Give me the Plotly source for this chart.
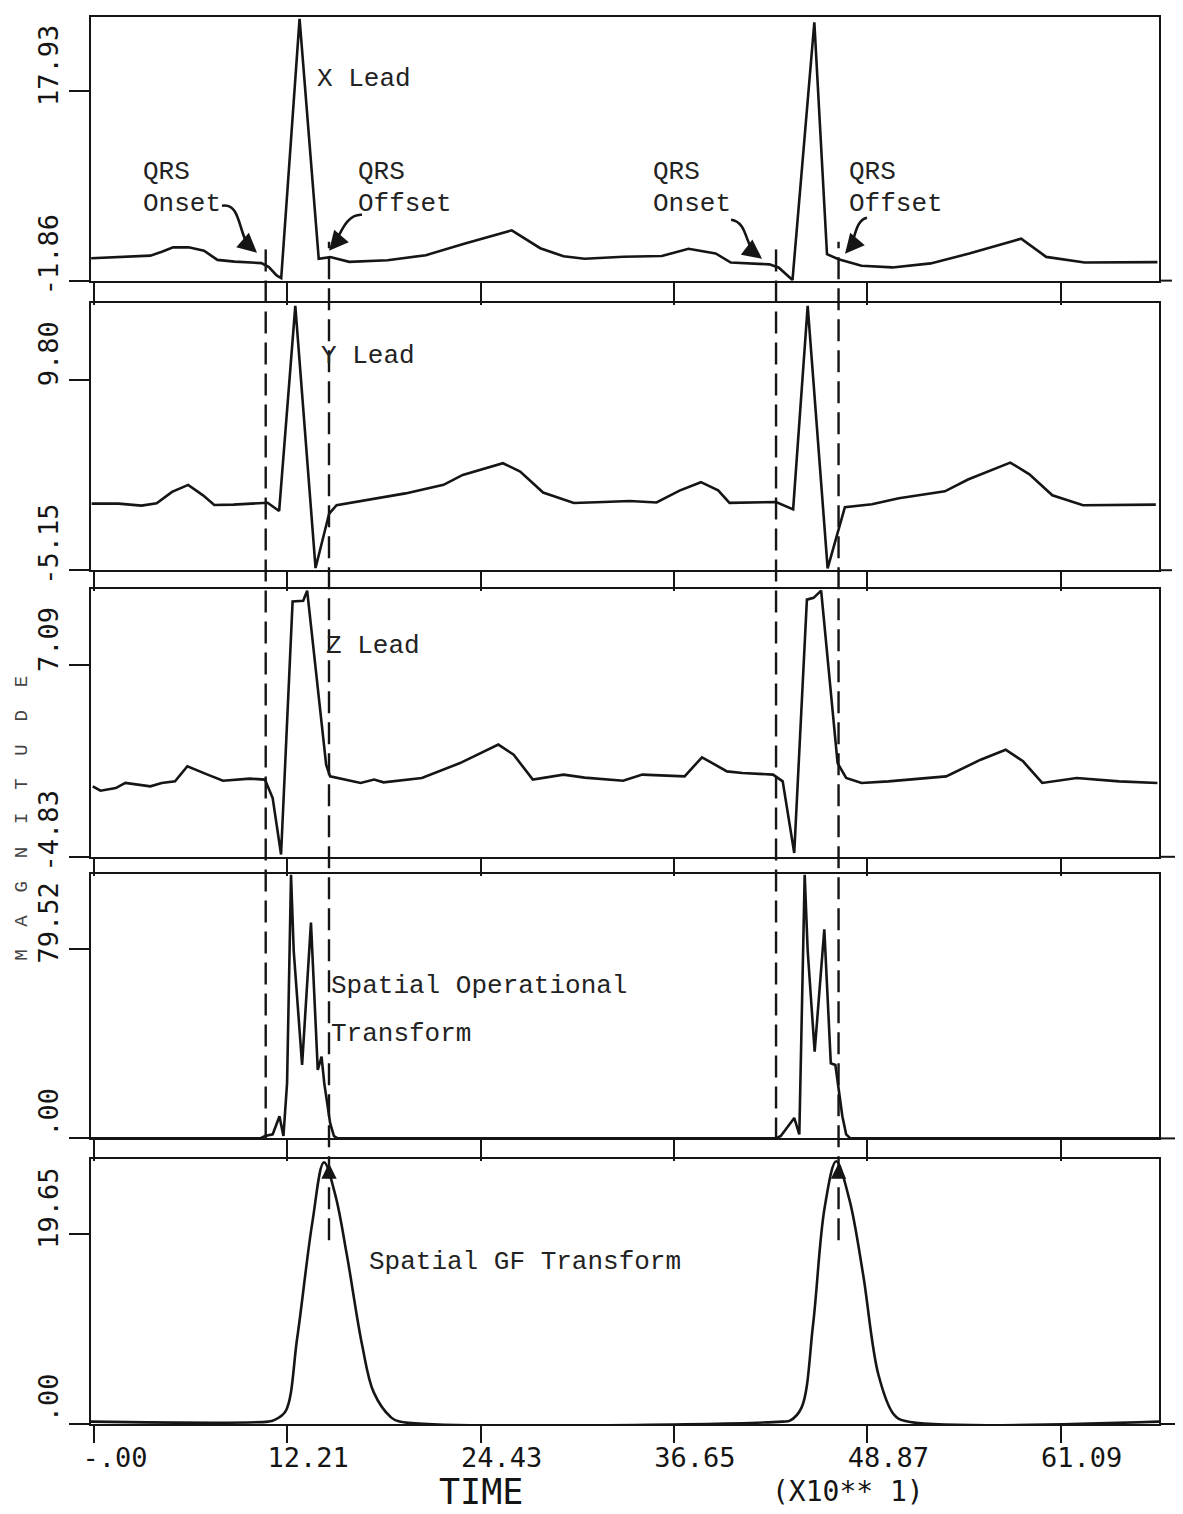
import plotly.graph_objects as go

# ---------------- data ----------------
# time axis (x10 samples)
x_tick_vals = [0, 12.21, 24.43, 36.65, 48.87, 61.09]
x_tick_text = ["-.00", "12.21", "24.43", "36.65", "48.87", "61.09"]
X_RANGE = [-0.19, 67.3]

# X lead
x_lead_t = [-0.18, 3.56, 4.29, 5.0, 5.98, 6.95, 7.8, 8.88, 10.58, 11.05, 11.54, 11.83, 12.99, 14.2, 14.93,
            16.13, 18.55, 20.97, 23.39, 24.84, 26.4, 28.2, 29.67, 31.0, 33.45, 35.88, 37.57, 39.28, 40.24,
            42.68, 43.28, 44.14, 45.52, 46.32, 47.05, 48.5, 50.45, 52.87, 55.31, 58.59, 60.17, 62.6, 67.2]
x_lead_v = [0.48, 0.75, 1.16, 1.62, 1.62, 1.27, 0.31, 0.13, -0.03, -0.45, -1.32, -1.6, 25.5, 0.43, 0.6,
            0.1, 0.27, 0.8, 2.0, 2.7, 3.4, 1.53, 0.68, 0.42, 0.63, 0.71, 1.47, 0.98, 0.03,
            -0.16, -0.51, -1.8, 25.15, 0.9, 0.38, -0.3, -0.48, -0.06, 0.97, 2.52, 0.62, 0.03, 0.07]

# Y lead
y_lead_t = [-0.15, 1.55, 3.0, 3.96, 4.93, 5.95, 6.87, 7.6, 8.8, 10.97, 11.7, 12.72, 14.0, 14.86, 15.33,
            17.26, 19.68, 22.09, 23.3, 25.84, 26.93, 28.38, 30.32, 32.2, 33.84, 35.55, 37.0, 38.35, 39.44,
            40.16, 43.1, 44.18, 45.1, 46.36, 47.09, 47.45, 49.16, 50.86, 53.77, 55.23, 57.9, 59.11, 60.56,
            62.5, 67.1]
y_lead_v = [0.08, 0.08, -0.08, 0.1, 1.0, 1.55, 0.75, -0.03, 0.0, 0.15, -0.5, 15.6, -4.98, -0.7, -0.05,
            0.35, 0.88, 1.55, 2.33, 3.25, 2.6, 0.95, 0.13, 0.2, 0.28, 0.17, 1.1, 1.76, 1.12,
            0.14, 0.2, -0.37, 15.6, -5.0, -1.77, -0.2, 0.03, 0.5, 1.04, 1.97, 3.3, 2.38, 0.73,
            -0.05, 0.0]

# Z lead
z_lead_t = [-0.08, 0.41, 1.38, 1.98, 3.56, 4.28, 5.12, 5.9, 7.18, 8.15, 9.84, 10.8, 11.29, 11.82, 12.55,
            13.22, 13.47, 14.67, 14.92, 16.85, 17.7, 18.3, 20.72, 23.13, 25.55, 26.52, 27.73, 29.67, 31.0,
            33.44, 34.65, 37.32, 38.42, 40.0, 40.97, 42.91, 43.52, 44.25, 45.05, 45.47, 45.95, 46.99,
            47.53, 48.5, 50.2, 53.85, 56.03, 57.61, 58.71, 59.92, 62.1, 64.78, 67.2]
z_lead_v = [-0.44, -0.71, -0.55, -0.23, -0.44, -0.23, -0.13, 0.81, 0.29, -0.09, 0.04, -0.02, -1.17, -4.69,
            11.08, 11.12, 11.75, 0.91, 0.18, -0.23, -0.02, -0.19, 0.08, 1.01, 2.16, 1.53, -0.02, 0.29, 0.1,
            -0.09, 0.29, 0.18, 1.37, 0.49, 0.39, 0.29, -0.13, -4.59, 11.19, 11.3, 11.75, 1.01,
            0.08, -0.23, -0.13, 0.18, 1.22, 1.84, 1.12, -0.23, 0.08, -0.13, -0.23]

# Spatial Operational Transform
sot_t = [-0.19, 10.5, 10.81, 11.29, 11.72, 11.97, 12.2, 12.45, 12.62, 13.15, 13.71, 14.14, 14.38, 14.55,
         14.92, 15.16, 15.4, 43.1, 43.4, 44.25, 44.57, 44.91, 45.1, 45.54, 46.15, 46.56, 46.85, 47.29,
         47.53, 47.8, 67.3]
sot_v = [0, 0, 1.0, 1.7, 9.3, 1.0, 23.2, 110.6, 78.7, 30.8, 90.5, 28.7, 34.3, 23.2,
         6.5, 1.0, 0, 0, 1.0, 8.6, 1.7, 110.6, 78.7, 36.4, 87.7, 31.5, 30.8, 9.3,
         1.7, 0, 0]

# Spatial GF Transform
gf_t = [-0.19, 11.0, 11.38, 12.1, 12.84, 13.8, 14.53, 15.25, 15.98, 16.94, 17.67, 18.76, 19.3,
        43.5, 43.98, 44.71, 45.44, 46.17, 46.9, 47.74, 48.6, 49.57, 50.54, 51.27, 67.3]
gf_v = [0.25, 0.25, 0.4, 1.3, 8.9, 20.9, 27.1, 23.7, 17.5, 8.2, 3.3, 0.7, 0.25,
        0.25, 0.35, 1.7, 10.3, 22.4, 27.2, 23.2, 15.5, 5.1, 1.0, 0.3, 0.25]

# QRS onset / offset markers
qrs_onset = [10.85, 43.1]
qrs_offset = [14.85, 47.05]

# y ranges and tick labels per panel
y_ranges = [[-1.86, 25.7], [-5.15, 15.86], [-4.83, 11.84], [0, 111.0], [0, 27.4]]
y_tick_vals = [[-1.86, 17.93], [-5.15, 9.80], [-4.83, 7.09], [0, 79.52], [0, 19.65]]
y_tick_text = [["-1.86", "17.93"], ["-5.15", "9.80"], ["-4.83", "7.09"], [".00", "79.52"], [".00", "19.65"]]

# ---------------- layout geometry ----------------
OFF = 8                      # page offset of the plot div (body margin)
W, H = 1183 - OFF, 1514 - OFF
ML, MR, MT, MB = 91 - OFF, 24, 15 - OFF, 90
PW = W - ML - MR
PH = H - MT - MB
panel_px = [(15, 279), (301, 569), (588, 856), (873, 1138), (1159, 1424)]
strip_len = [22, 19, 17, 21, 17]
axis_ext = [1172, 1172, 1180, 1182, 1182]   # bottom axis line runs past the right border


def px_x(px):
    return (px - OFF - ML) / PW


def px_y(py):
    return (MT + PH - (py - OFF)) / PH


INK = "#151515"
tick_font = dict(family="DejaVu Sans Mono", size=27, color=INK)
type_font = dict(family="Liberation Mono", size=26, color="#222")

fig = go.Figure()
series = [(x_lead_t, x_lead_v, "linear"), (y_lead_t, y_lead_v, "linear"), (z_lead_t, z_lead_v, "linear"),
          (sot_t, sot_v, "linear"), (gf_t, gf_v, "spline")]
for i, (t, v, shape) in enumerate(series):
    n = "" if i == 0 else str(i + 1)
    fig.add_trace(go.Scatter(x=t, y=v, mode="lines", xaxis="x" + n, yaxis="y" + n,
                             line=dict(color=INK, width=2.6, shape=shape), showlegend=False,
                             hoverinfo="skip"))

layout = dict(width=W, height=H, margin=dict(l=ML, r=MR, t=MT, b=MB),
              paper_bgcolor="white", plot_bgcolor="white", showlegend=False)
for i in range(5):
    n = "" if i == 0 else str(i + 1)
    top, bot = panel_px[i]
    layout["xaxis" + n] = dict(domain=[0, 1], range=X_RANGE, anchor="y" + n, showline=True, mirror=True,
                               linecolor=INK, linewidth=2, ticks="outside", ticklen=strip_len[i],
                               tickwidth=2, tickcolor=INK, tickmode="array", tickvals=x_tick_vals,
                               ticktext=x_tick_text, showticklabels=(i == 4), tickfont=tick_font,
                               ticklabelshift=21, ticklabelstandoff=-8, showgrid=False, zeroline=False,
                               fixedrange=True)
    layout["yaxis" + n] = dict(domain=[px_y(bot), px_y(top)], range=y_ranges[i], anchor="x" + n,
                               showline=True, mirror=True, linecolor=INK, linewidth=2, ticks="outside",
                               ticklen=20, tickwidth=2, tickcolor=INK, tickmode="array",
                               tickvals=y_tick_vals[i], ticktext=y_tick_text[i], tickangle=-90,
                               tickfont=tick_font, ticklabelshift=-22, showgrid=False, zeroline=False,
                               fixedrange=True)
fig.update_layout(**layout)

shapes = []
dash = "22px,9px"
for t in qrs_onset:
    shapes.append(dict(type="line", xref="x", yref="paper", x0=t, x1=t, y0=px_y(1139), y1=px_y(243),
                       line=dict(color=INK, width=2.4, dash=dash)))
for t in qrs_offset:
    shapes.append(dict(type="line", xref="x", yref="paper", x0=t, x1=t, y0=px_y(1240), y1=px_y(240),
                       line=dict(color=INK, width=2.4, dash=dash)))
# axis line extensions to the right of each panel
for (top, bot), xe in zip(panel_px, axis_ext):
    shapes.append(dict(type="line", xref="paper", yref="paper", x0=1.0, x1=px_x(xe),
                       y0=px_y(bot), y1=px_y(bot), line=dict(color=INK, width=2)))


def curve(pts):
    (x0, y0), (x1, y1), (x2, y2), (x3, y3) = pts
    return ("M {:.5f},{:.5f} C {:.5f},{:.5f} {:.5f},{:.5f} {:.5f},{:.5f}".format(
        px_x(x0), px_y(y0), px_x(x1), px_y(y1), px_x(x2), px_y(y2), px_x(x3), px_y(y3)))


arrow_curves = [
    [(222, 204), (242, 200), (238, 236), (251, 246)],
    [(362, 213), (345, 212), (340, 235), (333, 244)],
    [(731, 218), (748, 220), (745, 245), (756, 252)],
    [(867, 216), (855, 218), (855, 240), (849, 247)],
]
for c in arrow_curves:
    shapes.append(dict(type="path", xref="paper", yref="paper", path=curve(c),
                       line=dict(color=INK, width=2.6)))
fig.update_layout(shapes=shapes)

annotations = []
# arrow heads for curved QRS arrows (tip pixel, tail offset)
heads = [((257, 251), (-8, -7)), ((329, 249), (6, -7)), ((762, 257), (-8, -6)), ((845, 252), (6, -7))]
for (hx, hy), (ax, ay) in heads:
    annotations.append(dict(x=px_x(hx), y=px_y(hy), xref="paper", yref="paper", text="", showarrow=True,
                            ax=ax, ay=ay, arrowhead=2, arrowsize=1.6, arrowwidth=2.4, arrowcolor=INK))
# upward arrow heads at GF peaks
for t in qrs_offset:
    annotations.append(dict(x=t, y=px_y(1163), xref="x", yref="paper", text="", showarrow=True,
                            ax=0, ay=16, arrowhead=2, arrowsize=1.4, arrowwidth=2.2, arrowcolor=INK))


def label(text, px, py, font=type_font):
    annotations.append(dict(x=px_x(px), y=px_y(py), xref="paper", yref="paper", text=text,
                            showarrow=False, xanchor="left", yanchor="middle", font=font))


label("X Lead", 315, 77)
label("QRS", 141, 170)
label("Onset", 141, 202)
label("QRS", 356, 170)
label("Offset", 356, 202)
label("QRS", 651, 170)
label("Onset", 651, 202)
label("QRS", 847, 170)
label("Offset", 847, 202)
label("Y Lead", 319, 354)
label("Z Lead", 324, 645)
label("Spatial Operational", 329, 985)
label("Transform", 329, 1033)
label("Spatial GF Transform", 367, 1262)

annotations.append(dict(x=px_x(481), y=px_y(1513), xref="paper", yref="paper", text="TIME",
                        showarrow=False, xanchor="center", yanchor="bottom", borderpad=0,
                        font=dict(family="DejaVu Sans Mono", size=35, color=INK)))
annotations.append(dict(x=px_x(848), y=px_y(1492), xref="paper", yref="paper", text="(X10** 1)",
                        showarrow=False, xanchor="center", yanchor="middle",
                        font=dict(family="DejaVu Sans Mono", size=28, color=INK)))
annotations.append(dict(x=px_x(22), y=px_y(818), xref="paper", yref="paper",
                        text="M\u00a0\u00a0A\u00a0\u00a0G\u00a0\u00a0N\u00a0\u00a0I\u00a0\u00a0T\u00a0\u00a0U\u00a0\u00a0D\u00a0\u00a0E",
                        showarrow=False, textangle=-90, xanchor="center", yanchor="middle",
                        font=dict(family="Liberation Mono", size=19, color="#444")))
fig.update_layout(annotations=annotations)

fig.write_html("out.html")
